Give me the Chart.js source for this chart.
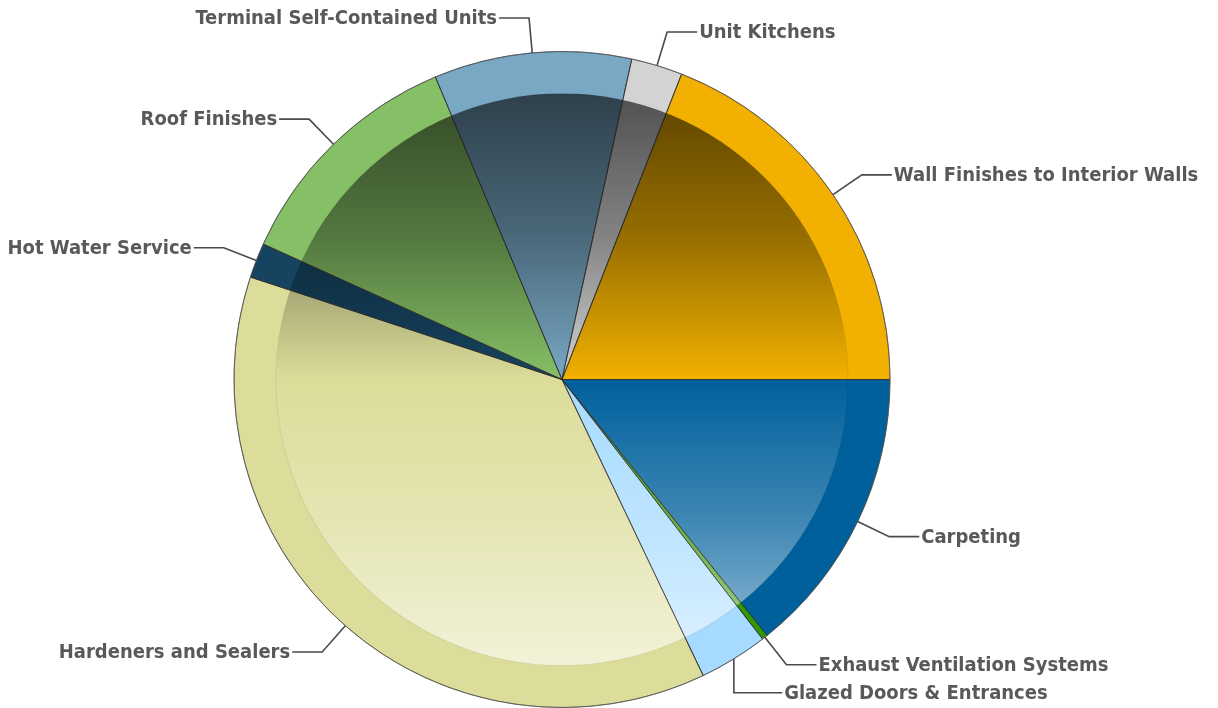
<!DOCTYPE html>
<html>
<head>
<meta charset="utf-8">
<script src="https://cdn.jsdelivr.net/npm/chart.js@4.4.1/dist/chart.umd.min.js"></script>
<style>
html,body{margin:0;padding:0;background:#fff;}
#wrap{width:1218px;height:708px;position:relative;}
</style>
</head>
<body>
<div id="wrap"><canvas id="c" width="1218" height="708"></canvas></div>
<script>
const categories = [
  "Carpeting",
  "Exhaust Ventilation Systems",
  "Glazed Doors & Entrances",
  "Hardeners and Sealers",
  "Hot Water Service",
  "Roof Finishes",
  "Terminal Self-Contained Units",
  "Unit Kitchens",
  "Wall Finishes to Interior Walls"
];
const values = [14.25, 0.28, 3.39, 37.14, 1.72, 11.92, 9.72, 2.53, 19.06];
const colors = ["#00609C", "#2E9900", "#A6DBFF", "#DCDD9A", "#16435F", "#86C066", "#78A8C4", "#D3D3D3", "#F2B100"];

const LABEL_FONT = 'bold 20px "DejaVu Sans Condensed", "DejaVu Sans", sans-serif';

const shadePlugin = {
  id: 'shade',
  afterDatasetsDraw(chart) {
    const meta = chart.getDatasetMeta(0);
    if (!meta.data.length) return;
    const a0 = meta.data[0];
    const cx = a0.x, cy = a0.y, R = a0.outerRadius;
    const r = R * 0.872;
    const ctx = chart.ctx;
    ctx.save();
    ctx.beginPath();
    ctx.arc(cx, cy, r, 0, Math.PI * 2);
    ctx.clip();
    const g = ctx.createLinearGradient(0, cy - r, 0, cy + r);
    g.addColorStop(0, 'rgba(0,0,0,0.62)');
    g.addColorStop(0.25, 'rgba(0,0,0,0.38)');
    g.addColorStop(0.5, 'rgba(0,0,0,0)');
    g.addColorStop(0.5, 'rgba(255,255,255,0)');
    g.addColorStop(0.75, 'rgba(255,255,255,0.25)');
    g.addColorStop(1, 'rgba(255,255,255,0.62)');
    ctx.fillStyle = g;
    ctx.fillRect(cx - r, cy - r, 2 * r, 2 * r);
    ctx.restore();
    ctx.save();
    ctx.beginPath();
    ctx.arc(cx, cy, r, 0, Math.PI * 2);
    ctx.strokeStyle = 'rgba(0,0,0,0.06)';
    ctx.lineWidth = 1.2;
    ctx.stroke();
    ctx.restore();
    ctx.save();
    ctx.strokeStyle = 'rgba(40,40,40,0.75)';
    ctx.lineWidth = 1;
    meta.data.forEach(arc => {
      ctx.beginPath();
      ctx.moveTo(cx, cy);
      ctx.lineTo(cx + R * Math.cos(arc.startAngle), cy + R * Math.sin(arc.startAngle));
      ctx.stroke();
    });
    ctx.beginPath();
    ctx.arc(cx, cy, R, 0, Math.PI * 2);
    ctx.strokeStyle = 'rgba(80,80,80,0.7)';
    ctx.stroke();
    ctx.restore();

    const items = meta.data.map((arc, i) => {
      const mid = (arc.startAngle + arc.endAngle) / 2;
      const c = Math.cos(mid), s = Math.sin(mid);
      const ex = cx + R * c, ey = cy + R * s;
      const bx = cx + (R + 35) * c, by = cy + (R + 35) * s;
      return {i, c, ex, ey, bx, by, ly: by, moved: false, right: c >= 0};
    });
    [true, false].forEach(side => {
      const list = items.filter(it => it.right === side).sort((a, b) => a.ly - b.ly);
      for (let k = 1; k < list.length; k++) {
        if (list[k].ly - list[k - 1].ly < 28) {
          list[k].ly = list[k - 1].ly + 28;
          list[k].moved = true;
        }
      }
    });
    ctx.save();
    ctx.font = LABEL_FONT;
    ctx.textBaseline = 'middle';
    items.forEach(it => {
      const elx = it.moved ? it.ex : it.bx;
      const endx = it.right ? it.bx + 30 : it.bx - 30;
      ctx.beginPath();
      ctx.moveTo(it.ex, it.ey);
      ctx.lineTo(elx, it.ly);
      ctx.lineTo(endx, it.ly);
      ctx.strokeStyle = '#4a4a4a';
      ctx.lineWidth = 1.6;
      ctx.stroke();
      ctx.fillStyle = '#595959';
      ctx.textAlign = it.right ? 'left' : 'right';
      ctx.fillText(categories[it.i], it.right ? endx + 2 : endx - 2, it.ly + 1);
    });
    ctx.restore();
  }
};

new Chart(document.getElementById('c'), {
  type: 'pie',
  data: {
    labels: categories,
    datasets: [{
      data: values,
      backgroundColor: colors,
      borderColor: 'rgba(60,60,60,0.6)',
      borderWidth: 1
    }]
  },
  options: {
    responsive: false,
    animation: false,
    rotation: 90,
    layout: {padding: {left: 233, right: 327, top: 51, bottom: 0}},
    plugins: {legend: {display: false}, tooltip: {enabled: false}}
  },
  plugins: [shadePlugin]
});
</script>
</body>
</html>
